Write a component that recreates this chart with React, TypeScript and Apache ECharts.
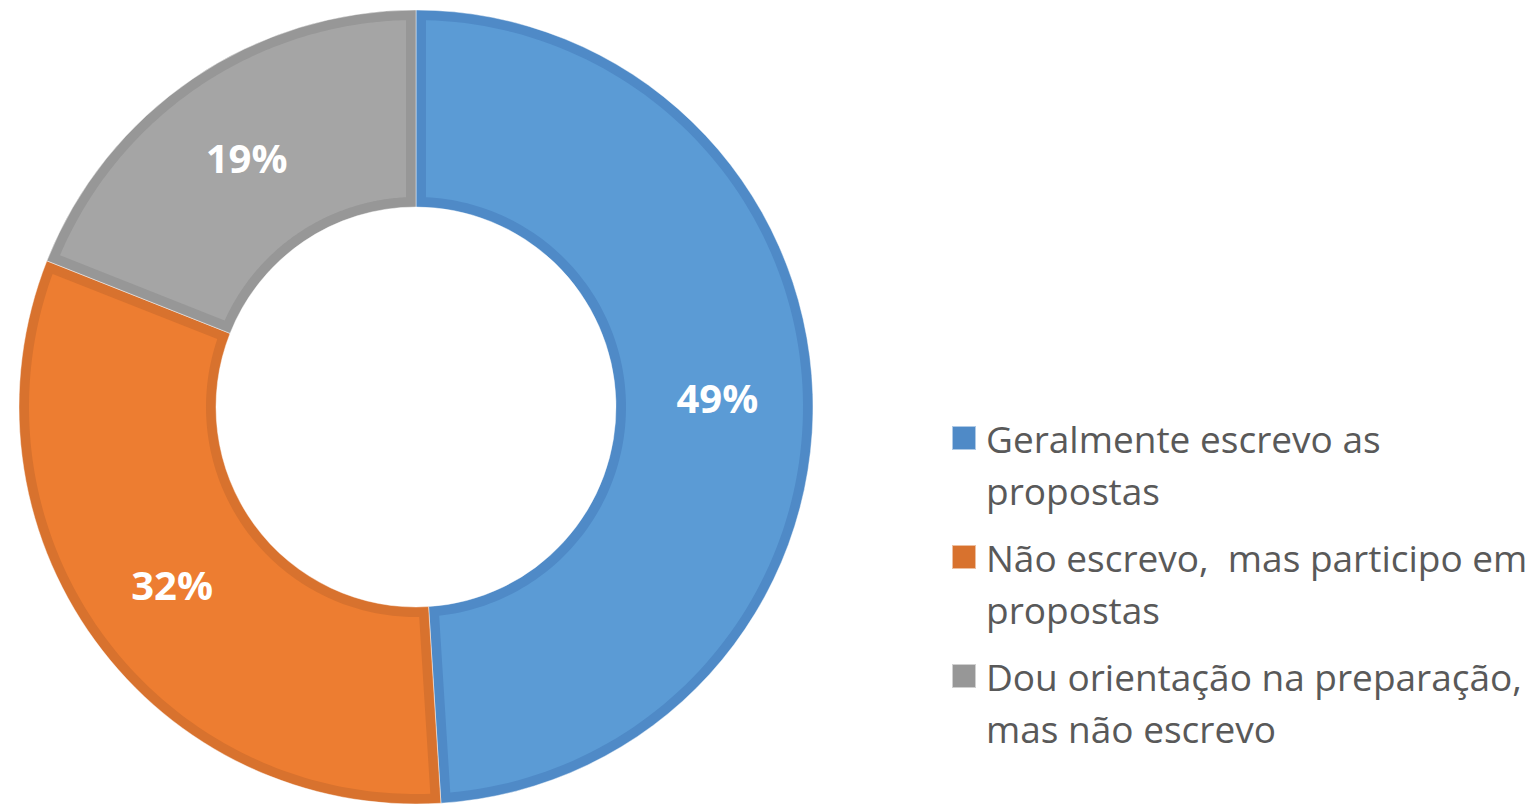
import React, { useEffect, useRef } from "react";
import * as echarts from "echarts";

const CATEGORIES = [
  "Geralmente escrevo as\npropostas",
  "Não escrevo,  mas participo em\npropostas",
  "Dou orientação na preparação,\nmas não escrevo",
];
const VALUES = [49, 32, 19];
const FILL_COLORS = ["#5B9BD5", "#ED7D31", "#A5A5A5"];
const BORDER_COLORS = ["#4F8AC7", "#D8722E", "#979797"];

const CX = 416;
const CY = 407;
const R_IN = 200;
const R_OUT = 397;
const BORDER = 10;

export default function App() {
  const ref = useRef<HTMLDivElement>(null);

  useEffect(() => {
    if (!ref.current) return;
    const chart = echarts.init(ref.current, null, { renderer: "svg" });
    const total = VALUES.reduce((a, b) => a + b, 0);

    const renderItem = (params: any, api: any) => {
      const i = params.dataIndex;
      let before = 0;
      for (let k = 0; k < i; k++) before += VALUES[k];
      const a0 = (before / total) * Math.PI * 2;
      const a1 = ((before + VALUES[i]) / total) * Math.PI * 2;
      const ro = R_OUT - BORDER;
      const ri = R_IN + BORDER;
      const dOut = Math.asin(BORDER / ro);
      const dIn = Math.asin(BORDER / ri);
      const pts: number[][] = [];
      const N = 120;
      for (let s = 0; s <= N; s++) {
        const t = a0 + dOut + ((a1 - dOut - (a0 + dOut)) * s) / N;
        pts.push([CX + ro * Math.sin(t), CY - ro * Math.cos(t)]);
      }
      for (let s = 0; s <= N; s++) {
        const t = a1 - dIn - ((a1 - dIn - (a0 + dIn)) * s) / N;
        pts.push([CX + ri * Math.sin(t), CY - ri * Math.cos(t)]);
      }
      return {
        type: "polygon",
        shape: { points: pts },
        style: { fill: FILL_COLORS[i] },
        silent: true,
      };
    };

    const pieData = CATEGORIES.map((name, i) => ({
      name,
      value: VALUES[i],
      itemStyle: { color: BORDER_COLORS[i] },
    }));

    chart.setOption({
      animation: false,
      backgroundColor: "#ffffff",
      legend: {
        orient: "vertical",
        left: 951,
        top: 360,
        padding: 0,
        itemWidth: 24,
        itemHeight: 24,
        itemGap: -37,
        icon: "rect",
        selectedMode: false,
        formatter: (name: string) => " \n" + name,
        data: CATEGORIES.map((name, i) => ({
          name,
          itemStyle: { color: BORDER_COLORS[i] },
        })),
        textStyle: {
          fontFamily: "Open Sans",
          fontSize: 37,
          lineHeight: 52,
          color: "#595959",
          padding: [0, 0, 0, 5],
        },
      },
      series: [
        {
          type: "pie",
          name: "border",
          z: 1,
          center: [CX, CY],
          radius: [R_IN, R_OUT],
          startAngle: 90,
          clockwise: true,
          silent: true,
          label: { show: false },
          labelLine: { show: false },
          itemStyle: { borderWidth: 0.8, borderColor: "rgba(255,255,255,0.55)" },
          data: pieData,
        },
        {
          type: "custom",
          name: "fill",
          z: 2,
          coordinateSystem: "none",
          silent: true,
          renderItem,
          data: VALUES,
        },
        {
          type: "pie",
          name: "labels",
          z: 3,
          center: [CX, CY],
          radius: [R_IN, R_OUT],
          startAngle: 90,
          clockwise: true,
          silent: true,
          itemStyle: { color: "rgba(0,0,0,0)", borderWidth: 0 },
          label: {
            show: true,
            position: "inside",
            formatter: "{c}%",
            color: "#ffffff",
            fontFamily: "Open Sans",
            fontWeight: "bold",
            fontSize: 40,
          },
          labelLine: { show: false },
          data: CATEGORIES.map((name, i) => ({ name, value: VALUES[i] })),
        },
      ],
    });

    return () => chart.dispose();
  }, []);

  return (
    <div
      ref={ref}
      style={{ position: "absolute", left: 0, top: 0, width: 1538, height: 808 }}
    />
  );
}
